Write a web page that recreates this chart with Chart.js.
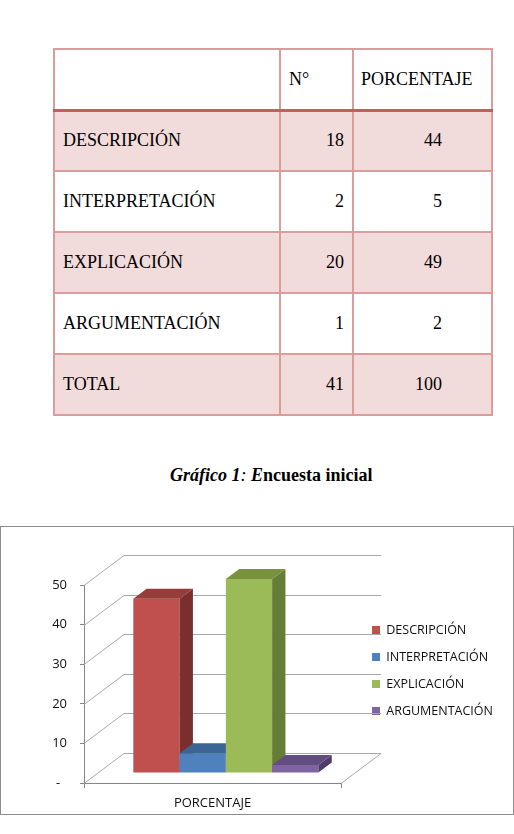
<!DOCTYPE html>
<html>
<head>
<meta charset="utf-8">
<script src="https://cdn.jsdelivr.net/npm/chart.js@4/dist/chart.umd.min.js"></script>
<style>
  body { margin: 0; background: #fff; width: 514px; height: 834px; position: relative; overflow: hidden; }
  #tabla { position: absolute; left: 53px; top: 48px; border-collapse: collapse; table-layout: fixed; width: 438px;
           font: 18px "Liberation Serif", serif; color: #000; }
  #tabla tr { height: 61px; }
  #tabla td { border: 2px solid #dc9c9b; padding: 0 8px; white-space: nowrap; }
  #tabla tr:first-child td { border-bottom: 3px solid #c95c5a; }
  #tabla tr.sombra td { background: #f2dbdb; }
  #tabla td.num { text-align: right; }
  #tabla td.pct { text-align: right; padding-right: 49px; }
  #tabla tr:first-child td.pct { text-align: left; padding: 0 4px 0 7px; }
  #titulo { position: absolute; left: 170px; top: 465px; font: bold 18px "Liberation Serif", serif; color: #000; white-space: nowrap; }
  #marco { position: absolute; left: 0; top: 526px; width: 514px; height: 289px; box-sizing: border-box; border: 1px solid #8c8c8c; }
  #marco canvas { display: block; }
</style>
</head>
<body>
<table id="tabla">
  <colgroup><col style="width:226px"><col style="width:73px"><col style="width:139px"></colgroup>
  <tbody></tbody>
</table>
<div id="titulo"><i>Gráfico 1</i><i style="font-weight:normal">:</i> <i>E</i>ncuesta inicial</div>
<div id="marco"><canvas id="grafico" width="512" height="287"></canvas></div>

<script>
// datos de la encuesta inicial
const categorias = ['DESCRIPCIÓN', 'INTERPRETACIÓN', 'EXPLICACIÓN', 'ARGUMENTACIÓN'];
const cantidades = [18, 2, 20, 1];
const porcentajes = [44, 5, 49, 2];
const etiquetaEje = ['PORCENTAJE'];
const marcasY = [0, 10, 20, 30, 40, 50];

const colores = ['#C0504D', '#4F81BD', '#9BBB59', '#8064A2'];
const coloresArriba = ['#963d3b', '#3b6594', '#78923f', '#634d80'];
const coloresLado = ['#7a2f2d', '#2f5280', '#657d36', '#4f3d67'];

// tabla
const cuerpo = document.querySelector('#tabla tbody');
const filas = [['', 'N°', 'PORCENTAJE']]
  .concat(categorias.map((c, i) => [c, cantidades[i], porcentajes[i]]))
  .concat([['TOTAL', cantidades.reduce((a, b) => a + b, 0), porcentajes.reduce((a, b) => a + b, 0)]]);
filas.forEach((f, i) => {
  const tr = document.createElement('tr');
  if (i % 2 === 1) tr.className = 'sombra';
  f.forEach((v, j) => {
    const td = document.createElement('td');
    td.textContent = v;
    if (j === 1 && i > 0) td.className = 'num';
    if (j === 2) td.className = 'pct';
    tr.appendChild(td);
  });
  cuerpo.appendChild(tr);
});

// profundidad del efecto 3D
const PROF_X = 40, PROF_Y = -30;
const fuente = { family: 'Open Sans', size: 12.5 };
const fuenteEjes = { family: 'Open Sans', size: 13 };

const efecto3d = {
  id: 'efecto3d',
  beforeDatasetsDraw(chart) {
    const { ctx, scales: { x, y } } = chart;
    ctx.save();
    ctx.strokeStyle = '#a8a8a8';
    ctx.lineWidth = 1;
    ctx.beginPath();
    y.ticks.forEach(t => {
      const py = Math.round(y.getPixelForValue(t.value)) + 0.5;
      ctx.moveTo(x.left, py);
      ctx.lineTo(x.left + PROF_X, py + PROF_Y);
      ctx.lineTo(x.right + PROF_X, py + PROF_Y);
    });
    const y0 = Math.round(y.getPixelForValue(0)) + 0.5;
    ctx.moveTo(x.right, y0);
    ctx.lineTo(x.right + PROF_X, y0 + PROF_Y);
    ctx.stroke();
    ctx.restore();
  },
  beforeDatasetDraw() {
    return false;
  },
  afterDatasetsDraw(chart) {
    const ctx = chart.ctx;
    const dx = PROF_X / 3, dy = PROF_Y / 3;
    chart.data.datasets.forEach((ds, i) => {
      const barra = chart.getDatasetMeta(i).data[0];
      const { x, y, base, width } = barra.getProps(['x', 'y', 'base', 'width'], true);
      const l = x - width / 2, r = x + width / 2;
      ctx.save();
      ctx.translate(dx, dy);
      barra.draw(ctx);
      ctx.fillStyle = coloresLado[i];
      ctx.beginPath();
      ctx.moveTo(r, base); ctx.lineTo(r, y); ctx.lineTo(r + dx, y + dy); ctx.lineTo(r + dx, base + dy);
      ctx.closePath(); ctx.fill();
      ctx.fillStyle = coloresArriba[i];
      ctx.beginPath();
      ctx.moveTo(l, y); ctx.lineTo(r, y); ctx.lineTo(r + dx, y + dy); ctx.lineTo(l + dx, y + dy);
      ctx.closePath(); ctx.fill();
      ctx.restore();
    });
  }
};

new Chart(document.getElementById('grafico'), {
  type: 'bar',
  data: {
    labels: etiquetaEje,
    datasets: categorias.map((c, i) => ({
      label: c,
      data: [porcentajes[i]],
      backgroundColor: colores[i],
      borderWidth: 0,
      categoryPercentage: 0.72,
      barPercentage: 1,
      clip: false
    }))
  },
  options: {
    responsive: false,
    animation: false,
    events: [],
    layout: { padding: { left: 0, top: 0, right: 10, bottom: 0 } },
    plugins: {
      tooltip: { enabled: false },
      legend: {
        position: 'right',
        maxWidth: 220,
        labels: { boxWidth: 8, boxHeight: 8, padding: 14.5, color: '#111', font: fuente }
      }
    },
    scales: {
      x: {
        ticks: { padding: 7, color: '#111', font: fuenteEjes },
        grid: { drawOnChartArea: false, tickLength: 5, color: '#868686' },
        border: { color: '#868686' },
        afterFit: s => { s.height = 31; }
      },
      y: {
        min: 0, max: 50,
        afterBuildTicks: s => { s.ticks = marcasY.map(v => ({ value: v })); },
        ticks: { padding: 13, color: '#111', font: fuenteEjes, callback: v => v === 0 ? '-  ' : v },
        grid: { drawOnChartArea: false, tickLength: 4, color: '#868686' },
        border: { color: '#868686' },
        afterFit: s => { s.width = 83; }
      },
      arriba: {
        type: 'linear', axis: 'x', position: 'top',
        grid: { display: false }, border: { display: false }, ticks: { display: false },
        afterFit: s => { s.height = 58; }
      },
      hueco: {
        type: 'linear', axis: 'y', position: 'right',
        grid: { display: false }, border: { display: false }, ticks: { display: false },
        afterFit: s => { s.width = 16.5; }
      }
    }
  },
  plugins: [efecto3d]
});
</script>
</body>
</html>
